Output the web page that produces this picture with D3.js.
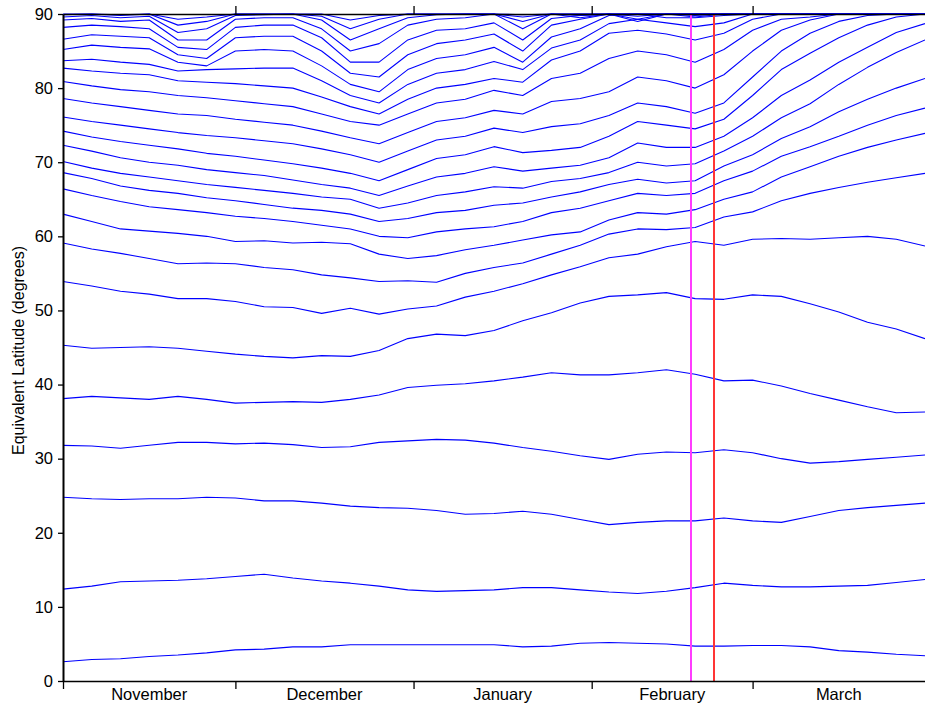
<!DOCTYPE html>
<html>
<head>
<meta charset="utf-8">
<script src="https://cdn.jsdelivr.net/npm/d3@7/dist/d3.min.js"></script>
<style>
  body { margin: 0; background: #fff; }
  svg text { font-family: "Liberation Sans", Arial, sans-serif; fill: #000; }
</style>
</head>
<body>
<div id="chart"></div>
<script>
'use strict';

// sample dates, every 5 days from 1 Nov to 31 Mar
const sampleDates = [
    '2002-11-01', '2002-11-06', '2002-11-11', '2002-11-16', '2002-11-21', '2002-11-26',
    '2002-12-01', '2002-12-06', '2002-12-11', '2002-12-16', '2002-12-21', '2002-12-26', '2002-12-31',
    '2003-01-05', '2003-01-10', '2003-01-15', '2003-01-20', '2003-01-25', '2003-01-30',
    '2003-02-04', '2003-02-09', '2003-02-14', '2003-02-19', '2003-02-24',
    '2003-03-01', '2003-03-06', '2003-03-11', '2003-03-16', '2003-03-21', '2003-03-26', '2003-03-31'
];

const monthLabels = ['November', 'December', 'January', 'February', 'March'];
const monthBounds = ['2002-11-01', '2002-12-01', '2003-01-01', '2003-02-01', '2003-03-01', '2003-03-31'];
const yTicks = [0, 10, 20, 30, 40, 50, 60, 70, 80, 90];

const markerDates = ['2003-02-18T08:00:00Z', '2003-02-22T08:00:00Z'];
const markerColors = ['#ff3cff', '#ff3535'];

// equivalent latitude of each contour (degrees), bottom to top
const contour01 = [2.6, 2.9, 3.0, 3.3, 3.5, 3.8, 4.2, 4.3, 4.6, 4.6, 4.9, 4.9, 4.9, 4.9, 4.9, 4.9, 4.6, 4.7, 5.1, 5.2, 5.1, 5.0, 4.7, 4.7, 4.8, 4.8, 4.6, 4.1, 3.9, 3.6, 3.4];
const contour02 = [12.4, 12.8, 13.4, 13.5, 13.6, 13.8, 14.1, 14.4, 13.9, 13.5, 13.2, 12.8, 12.3, 12.1, 12.2, 12.3, 12.6, 12.6, 12.3, 12.0, 11.8, 12.1, 12.6, 13.2, 12.9, 12.7, 12.7, 12.8, 12.9, 13.3, 13.7];
const contour03 = [24.8, 24.6, 24.5, 24.6, 24.6, 24.8, 24.7, 24.3, 24.3, 24.0, 23.6, 23.4, 23.3, 23.0, 22.5, 22.6, 22.9, 22.5, 21.8, 21.1, 21.4, 21.6, 21.6, 22.0, 21.6, 21.4, 22.2, 23.0, 23.4, 23.7, 24.0];
const contour04 = [31.8, 31.7, 31.4, 31.8, 32.2, 32.2, 32.0, 32.1, 31.9, 31.5, 31.6, 32.2, 32.4, 32.6, 32.5, 32.1, 31.5, 31.0, 30.4, 29.9, 30.6, 30.9, 30.8, 31.2, 30.8, 30.0, 29.4, 29.6, 29.9, 30.2, 30.5];
const contour05 = [38.1, 38.4, 38.2, 38.0, 38.4, 38.0, 37.5, 37.6, 37.7, 37.6, 38.0, 38.6, 39.6, 39.9, 40.1, 40.5, 41.0, 41.6, 41.3, 41.3, 41.6, 42.0, 41.4, 40.5, 40.6, 39.8, 38.8, 37.9, 37.0, 36.2, 36.3];
const contour06 = [45.3, 44.9, 45.0, 45.1, 44.9, 44.5, 44.1, 43.8, 43.6, 43.9, 43.8, 44.6, 46.2, 46.8, 46.6, 47.3, 48.6, 49.7, 51.0, 51.9, 52.1, 52.4, 51.6, 51.5, 52.1, 51.9, 50.9, 49.8, 48.4, 47.5, 46.2];
const contour07 = [53.9, 53.3, 52.6, 52.2, 51.6, 51.6, 51.2, 50.5, 50.4, 49.6, 50.3, 49.5, 50.2, 50.6, 51.8, 52.6, 53.6, 54.8, 55.9, 57.1, 57.6, 58.6, 59.3, 58.8, 59.6, 59.7, 59.6, 59.8, 60.0, 59.6, 58.7];
const contour08 = [59.1, 58.3, 57.7, 57.0, 56.3, 56.4, 56.3, 55.8, 55.5, 54.8, 54.4, 53.9, 54.0, 53.8, 55.0, 55.8, 56.4, 57.6, 58.8, 60.3, 61.0, 60.9, 61.2, 62.6, 63.3, 64.8, 65.8, 66.6, 67.3, 67.9, 68.5];
const contour09 = [63.0, 62.0, 61.0, 60.7, 60.4, 60.0, 59.3, 59.4, 59.1, 59.2, 59.0, 57.6, 57.0, 57.4, 58.2, 58.8, 59.5, 60.2, 60.6, 62.2, 63.2, 63.0, 63.6, 65.0, 66.0, 68.0, 69.4, 70.8, 72.0, 73.0, 73.9];
const contour10 = [66.4, 65.5, 64.7, 64.0, 63.6, 63.2, 62.7, 62.4, 62.0, 61.5, 61.0, 60.0, 59.8, 60.6, 61.0, 61.3, 62.0, 63.2, 63.8, 64.8, 65.8, 65.5, 65.8, 67.5, 68.8, 70.8, 72.1, 73.5, 75.0, 76.3, 77.3];
const contour11 = [68.6, 67.8, 66.8, 66.2, 65.8, 65.2, 64.8, 64.3, 63.8, 63.5, 63.0, 62.0, 62.4, 63.2, 63.5, 64.2, 64.5, 65.3, 66.0, 67.0, 67.7, 67.2, 67.5, 69.5, 71.0, 73.2, 74.8, 76.8, 78.5, 80.0, 81.3];
const contour12 = [70.1, 69.2, 68.5, 68.0, 67.5, 67.0, 66.6, 66.2, 65.8, 65.3, 65.0, 63.8, 64.5, 65.5, 66.0, 66.7, 66.5, 67.4, 67.8, 68.6, 70.0, 69.5, 69.8, 71.5, 73.5, 76.0, 77.9, 80.5, 82.8, 84.8, 86.5];
const contour13 = [72.3, 71.5, 70.6, 70.0, 69.6, 69.0, 68.6, 68.2, 67.6, 67.0, 66.5, 65.5, 66.8, 68.0, 68.5, 69.4, 68.8, 69.2, 69.6, 70.6, 72.6, 72.0, 72.0, 73.5, 76.0, 79.0, 81.1, 83.5, 85.5, 87.5, 88.7];
const contour14 = [74.2, 73.4, 72.8, 72.3, 71.8, 71.2, 70.8, 70.3, 69.8, 69.2, 68.5, 67.5, 69.0, 70.5, 71.0, 72.1, 71.3, 71.6, 72.0, 73.5, 75.5, 75.0, 74.5, 75.8, 79.0, 82.5, 84.7, 86.8, 88.5, 89.6, 90];
const contour15 = [76.1, 75.5, 75.0, 74.5, 74.0, 73.6, 73.3, 72.9, 72.5, 71.8, 71.0, 70.0, 71.5, 73.0, 73.5, 74.6, 74.0, 74.8, 75.2, 76.3, 78.0, 77.5, 76.6, 78.0, 81.5, 85.0, 87.4, 89.0, 89.8, 90, 90];
const contour16 = [78.6, 78.0, 77.5, 77.0, 76.5, 76.3, 75.8, 75.4, 75.0, 74.2, 73.3, 72.5, 74.0, 75.5, 76.0, 77.0, 76.5, 78.2, 78.6, 79.5, 81.5, 81.0, 80.0, 81.8, 85.0, 87.8, 89.2, 90, 90, 90, 90];
const contour17 = [80.9, 80.3, 79.8, 79.5, 79.0, 78.7, 78.3, 77.9, 77.5, 76.5, 75.5, 75.0, 76.5, 78.0, 78.5, 79.7, 79.0, 81.3, 82.0, 84.0, 85.0, 84.5, 83.5, 85.2, 87.8, 89.3, 89.6, 90, 90, 90, 90];
const contour18 = [82.7, 82.3, 82.0, 81.8, 81.0, 80.8, 80.6, 80.3, 80.0, 78.8, 77.5, 76.5, 78.5, 80.0, 80.5, 81.3, 80.8, 83.8, 85.0, 87.4, 87.8, 87.3, 86.5, 87.4, 89.3, 90, 90, 90, 90, 90, 90];
const contour19 = [83.7, 83.9, 83.5, 83.2, 82.3, 82.5, 82.6, 82.7, 82.7, 81.0, 79.0, 78.0, 80.5, 82.0, 82.5, 83.6, 82.5, 85.4, 86.5, 88.7, 89.3, 88.8, 88.3, 88.8, 90, 90, 90, 90, 90, 90, 90];
const contour20 = [85.2, 85.8, 85.5, 85.3, 83.5, 83.0, 85.0, 85.2, 85.0, 83.0, 80.5, 79.5, 82.5, 84.0, 84.5, 85.5, 83.5, 86.9, 88.0, 89.8, 90, 89.5, 89.5, 89.8, 90, 90, 90, 90, 90, 90, 90];
const contour21 = [86.6, 87.2, 87.0, 86.8, 84.5, 84.0, 86.8, 87.0, 87.0, 85.0, 82.0, 81.5, 84.5, 86.0, 86.5, 87.3, 85.0, 88.5, 89.3, 90, 90, 90, 90, 90, 90, 90, 90, 90, 90, 90, 90];
const contour22 = [88.2, 88.5, 88.3, 88.0, 85.5, 85.2, 88.2, 88.5, 88.5, 86.8, 83.5, 83.5, 86.5, 87.8, 88.0, 88.8, 86.5, 89.4, 89.8, 90, 90, 90, 90, 90, 90, 90, 90, 90, 90, 90, 90];
const contour23 = [89.2, 89.4, 89.0, 89.2, 86.5, 86.5, 89.3, 89.5, 89.5, 88.0, 85.0, 86.0, 88.5, 89.3, 89.5, 90, 88.0, 90, 90, 90, 89.0, 90, 90, 90, 90, 90, 90, 90, 90, 90, 90];
const contour24 = [89.6, 89.8, 89.5, 89.7, 87.5, 88.0, 89.8, 89.9, 90, 89.2, 86.5, 88.0, 89.5, 89.9, 90, 90, 89.0, 90, 89.5, 90, 89.3, 90, 89.6, 90, 90, 90, 90, 90, 90, 90, 90];
const contour25 = [89.9, 90, 89.8, 90, 88.5, 89.0, 90, 90, 90, 89.7, 88.0, 89.3, 90, 90, 90, 90, 89.6, 90, 89.8, 90, 89.7, 90, 89.8, 90, 90, 90, 90, 90, 90, 90, 90];
const contour26 = [90, 90, 89.9, 90, 89.3, 89.6, 90, 90, 90, 90, 89.2, 89.8, 90, 90, 90, 90, 89.9, 90, 90, 90, 90, 90, 90, 90, 90, 90, 90, 90, 90, 90, 90];

const contours = [
    contour01, contour02, contour03, contour04, contour05, contour06, contour07,
    contour08, contour09, contour10, contour11, contour12, contour13, contour14,
    contour15, contour16, contour17, contour18, contour19, contour20, contour21,
    contour22, contour23, contour24, contour25, contour26
];

const width = 925;
const height = 704;
const margin = [14, 0, 23, 63]; // top, right, bottom, left

const parseDay = d3.utcParse('%Y-%m-%d');
const dates = sampleDates.map(parseDay);
const bounds = monthBounds.map(parseDay);

const svg = d3.select('#chart')
    .append('svg')
    .attr('width', width)
    .attr('height', height);

const x = d3.scaleUtc()
    .domain([bounds[0], bounds[bounds.length - 1]])
    .range([margin[3], width - margin[1]]);

const y = d3.scaleLinear()
    .domain([0, 90])
    .range([height - margin[2], margin[0]]);

// contour lines
const line = d3.line()
    .x((d, i) => x(dates[i]))
    .y(d => y(Math.min(90, d)));

svg.append('g')
    .selectAll('path')
    .data(contours)
    .join('path')
    .attr('d', line)
    .attr('fill', 'none')
    .attr('stroke', '#0000ff')
    .attr('stroke-width', 1.1)
    .attr('stroke-linejoin', 'round');

// vertical markers
svg.append('g')
    .selectAll('line')
    .data(markerDates)
    .join('line')
    .attr('x1', d => Math.round(x(new Date(d))))
    .attr('x2', d => Math.round(x(new Date(d))))
    .attr('y1', y(90))
    .attr('y2', y(0))
    .attr('stroke', (d, i) => markerColors[i])
    .attr('stroke-width', 2);

// left axis
const yAxis = svg.append('g')
    .attr('transform', `translate(${margin[3]},0)`)
    .call(d3.axisLeft(y).tickValues(yTicks).tickSize(5).tickSizeOuter(0).tickPadding(5));
yAxis.select('.domain').attr('stroke-width', 2);
yAxis.selectAll('.tick line').attr('stroke-width', 1.3);
yAxis.selectAll('.tick text').style('font-size', '16.5px');

// bottom axis, ticks at month boundaries
const xAxis = svg.append('g')
    .attr('transform', `translate(0,${y(0)})`)
    .call(d3.axisBottom(x).tickValues(bounds.slice(0, 5)).tickSize(8).tickSizeOuter(0).tickFormat(''));
xAxis.select('.domain').attr('stroke-width', 1.5);
xAxis.selectAll('.tick line').attr('stroke-width', 1.3);

svg.append('g')
    .selectAll('text')
    .data(monthLabels)
    .join('text')
    .attr('x', (d, i) => (x(bounds[i]) + x(bounds[i + 1])) / 2)
    .attr('y', 700)
    .attr('text-anchor', 'middle')
    .style('font-size', '16.5px')
    .text(d => d);

// top frame with outward ticks
const topAxis = svg.append('g')
    .attr('transform', `translate(0,${y(90)})`)
    .call(d3.axisTop(x).tickValues(bounds.slice(1, 5)).tickSize(8).tickSizeOuter(0).tickFormat(''));
topAxis.select('.domain').attr('stroke-width', 1.5);
topAxis.selectAll('.tick line').attr('stroke-width', 1.3);

// axis title
svg.append('text')
    .attr('transform', `translate(23.5,${(y(0) + y(90)) / 2 + 3}) rotate(-90)`)
    .attr('text-anchor', 'middle')
    .style('font-size', '16px')
    .text('Equivalent Latitude (degrees)');
</script>
</body>
</html>
